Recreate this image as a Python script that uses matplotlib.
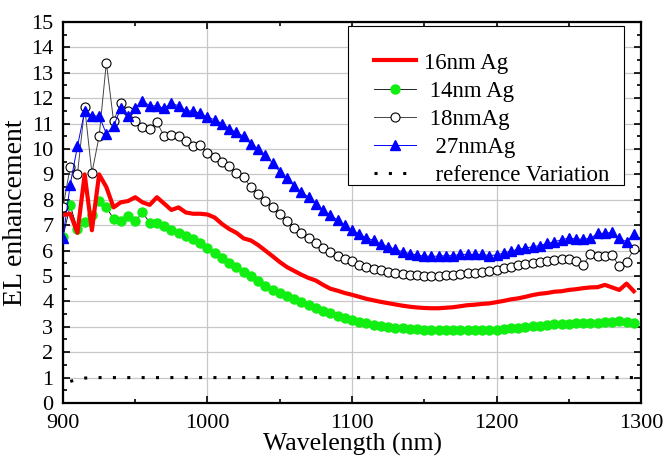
"""
plot.py -- EL enhancement vs wavelength for several Ag thicknesses.
Values read off the reference figure (5 nm step, 900-1295 nm).
"""
import numpy as np
import matplotlib
matplotlib.use("Agg")
import matplotlib.pyplot as plt
from matplotlib.patches import Rectangle
from matplotlib.ticker import MultipleLocator

# ======================= DATA =======================
WAVELENGTH = np.arange(900, 1300, 5)                 # [nm]

AG16 = [7.40, 7.45, 6.70, 9.00, 6.80, 9.00, 8.50, 7.70, 7.90, 7.95,
        8.10, 7.90, 7.80, 8.10, 7.85, 7.60, 7.70, 7.50, 7.45, 7.45,
        7.42, 7.30, 7.05, 6.85, 6.70, 6.48, 6.40, 6.22, 6.00, 5.78,
        5.55, 5.35, 5.20, 5.05, 4.92, 4.82, 4.65, 4.50, 4.42, 4.33,
        4.26, 4.18, 4.10, 4.04, 3.98, 3.93, 3.88, 3.83, 3.79, 3.76,
        3.74, 3.73, 3.73, 3.75, 3.77, 3.81, 3.85, 3.87, 3.90, 3.92,
        3.97, 4.02, 4.08, 4.12, 4.18, 4.25, 4.30, 4.33, 4.38, 4.40,
        4.45, 4.48, 4.52, 4.55, 4.56, 4.65, 4.55, 4.45, 4.70, 4.40]

AG14 = [6.55, 7.78, 6.85, 7.12, 7.42, 7.95, 7.70, 7.25, 7.15, 7.35,
        7.15, 7.50, 7.10, 7.10, 6.95, 6.82, 6.70, 6.58, 6.45, 6.30,
        6.12, 5.92, 5.72, 5.52, 5.35, 5.15, 4.98, 4.80, 4.62, 4.45,
        4.32, 4.20, 4.08, 3.96, 3.86, 3.74, 3.64, 3.53, 3.44, 3.35,
        3.27, 3.20, 3.14, 3.08, 3.04, 3.00, 2.97, 2.94, 2.92, 2.90,
        2.89, 2.88, 2.87, 2.87, 2.87, 2.87, 2.87, 2.87, 2.87, 2.88,
        2.88, 2.91, 2.94, 2.97, 3.00, 3.02, 3.05, 3.07, 3.09, 3.10,
        3.12, 3.13, 3.14, 3.15, 3.16, 3.18, 3.20, 3.22, 3.20, 3.14]

AG18 = [7.70, 9.30, 9.00, 11.65, 9.05, 10.50, 13.40, 11.10, 11.80, 11.50,
        11.10, 10.85, 10.80, 11.05, 10.50, 10.55, 10.50, 10.30, 10.10, 10.15,
        9.85, 9.70, 9.50, 9.33, 9.05, 8.88, 8.50, 8.22, 7.95, 7.70,
        7.45, 7.18, 6.90, 6.68, 6.50, 6.30, 6.12, 5.95, 5.80, 5.68,
        5.58, 5.45, 5.36, 5.28, 5.22, 5.17, 5.12, 5.08, 5.05, 5.03,
        5.01, 5.00, 5.00, 5.02, 5.04, 5.07, 5.10, 5.13, 5.16, 5.20,
        5.24, 5.30, 5.36, 5.42, 5.48, 5.52, 5.56, 5.60, 5.63, 5.66,
        5.67, 5.60, 5.45, 5.85, 5.78, 5.80, 5.82, 5.38, 5.55, 6.05]

AG27 = [6.50, 8.60, 10.10, 11.50, 11.30, 11.30, 10.60, 10.90, 11.60, 11.30,
        11.60, 11.90, 11.70, 11.70, 11.60, 11.80, 11.70, 11.50, 11.50, 11.40,
        11.25, 11.15, 11.00, 10.80, 10.65, 10.50, 10.20, 10.00, 9.75, 9.45,
        9.10, 8.85, 8.55, 8.30, 8.10, 7.85, 7.60, 7.40, 7.20, 7.00,
        6.80, 6.65, 6.50, 6.40, 6.25, 6.15, 6.05, 5.95, 5.88, 5.83,
        5.78, 5.78, 5.78, 5.80, 5.80, 5.85, 5.85, 5.85, 5.85, 5.80,
        5.83, 5.90, 5.98, 6.05, 6.10, 6.15, 6.20, 6.28, 6.35, 6.42,
        6.50, 6.45, 6.45, 6.48, 6.68, 6.68, 6.72, 6.48, 6.35, 6.65]

REF_X = [905, 910, 915, 920, 1295]
REF_Y = [0.85, 0.93, 0.98, 1.00, 1.00]

LABELS = ["16nm Ag", " 14nm Ag", " 18nmAg", "  27nmAg", "  reference Variation"]
# ====================================================

OUT_PNG = "out.png"


def main():
    plt.rcParams["font.family"] = ["Liberation Serif", "DejaVu Serif"]

    fig = plt.figure(figsize=(6.68, 4.57), dpi=100)
    ax = fig.add_axes([0.0943, 0.1182, 0.8653, 0.8337])

    ax.plot(WAVELENGTH, AG16, color="#ff0000", lw=3.0, label=LABELS[0], zorder=4)
    ax.plot(WAVELENGTH, AG14, color="black", lw=0.6, marker="o", ms=6.5,
            mfc="#11ee11", mec="#11ee11", label=LABELS[1], zorder=3)
    ax.plot(WAVELENGTH, AG18, color="#444444", lw=0.7, marker="o", ms=6.5,
            mfc="white", mec="black", mew=0.8, label=LABELS[2], zorder=3)
    ax.plot(WAVELENGTH, AG27, color="#0000ff", lw=0.7, marker="^", ms=7.5,
            mfc="#0000ff", mec="#0000ff", label=LABELS[3], zorder=3)
    ax.plot(REF_X, REF_Y, color="black", lw=2.2, linestyle=(0, (1, 3.7)),
            dash_capstyle="butt", label=LABELS[4], zorder=3)

    ax.set_xlim(900, 1300)
    ax.set_ylim(0, 15)
    ax.xaxis.set_major_locator(MultipleLocator(100))
    ax.xaxis.set_minor_locator(MultipleLocator(50))
    ax.yaxis.set_major_locator(MultipleLocator(1))
    ax.yaxis.set_minor_locator(MultipleLocator(0.5))
    ax.tick_params(which="both", direction="in", top=True, right=True,
                   labelsize=16, width=1.2)
    ax.tick_params(which="major", length=5)
    ax.tick_params(which="minor", length=3)
    ax.tick_params(axis="x", which="both", pad=8)
    ax.tick_params(axis="y", which="both", pad=7)
    for sp in ax.spines.values():
        sp.set_linewidth(1.6)

    ax.grid(True, which="major", color="#c8c8c8", lw=0.9)
    ax.set_axisbelow(True)

    ax.set_xlabel("Wavelength (nm)", fontsize=18.5, labelpad=0)
    ax.set_ylabel("EL enhancement", fontsize=20, labelpad=2)

    # legend frame drawn by hand (the original box has a wide left margin)
    ax.add_patch(Rectangle((0.493, 0.572), 0.478, 0.4175, transform=ax.transAxes,
                           facecolor="white", edgecolor="black", lw=0.8, zorder=5))
    leg = ax.legend(loc="upper left", bbox_to_anchor=(0.538, 0.92),
                    fontsize=16.5, frameon=False, borderpad=0, borderaxespad=0,
                    handlelength=1.85, handletextpad=0.35, labelspacing=0.31)
    leg.set_zorder(6)

    fig.savefig(OUT_PNG, dpi=100)
    plt.close(fig)


if __name__ == "__main__":
    main()
